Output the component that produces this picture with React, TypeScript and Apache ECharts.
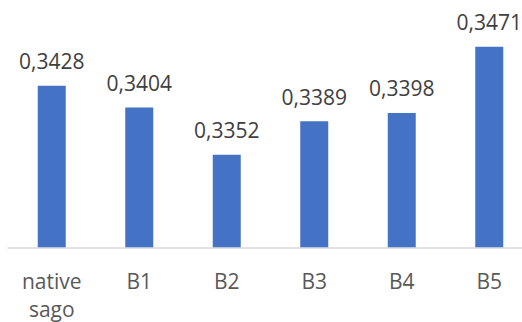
import React, { useEffect, useRef } from "react";
import * as echarts from "echarts";

const categories = ["native\nsago", "B1", "B2", "B3", "B4", "B5"];
const values = [0.3428, 0.3404, 0.3352, 0.3389, 0.3398, 0.3471];
const yMin = 0.325;
const yMax = 0.35;

export default function App() {
  const ref = useRef<HTMLDivElement>(null);
  useEffect(() => {
    if (!ref.current) return;
    const chart = echarts.init(ref.current, undefined, { renderer: "svg" });
    chart.setOption({
      animation: false,
      backgroundColor: "#ffffff",
      textStyle: { fontFamily: "Open Sans" },
      grid: {
        left: 8,
        top: 20.4,
        width: 525,
        height: 226.9,
        containLabel: false,
        outerBoundsMode: "none",
      },
      xAxis: {
        type: "category",
        data: categories,
        axisLine: { show: true, lineStyle: { color: "#d9d9d9", width: 1.5 } },
        axisTick: { show: false },
        axisLabel: {
          color: "#595959",
          fontSize: 21,
          fontFamily: "Open Sans",
          margin: 20,
          lineHeight: 28,
          interval: 0,
        },
      },
      yAxis: {
        type: "value",
        min: yMin,
        max: yMax,
        show: false,
        splitLine: { show: false },
      },
      series: [
        {
          type: "bar",
          data: values,
          barWidth: "32%",
          itemStyle: { color: "#4472c4" },
          label: {
            show: true,
            position: "top",
            distance: 14,
            color: "#404040",
            fontSize: 21,
            fontFamily: "Open Sans",
            formatter: (p: any) => p.value.toFixed(4).replace(".", ","),
          },
        },
      ],
    });
    return () => chart.dispose();
  }, []);
  return (
    <div
      ref={ref}
      style={{ position: "fixed", left: 0, top: 0, width: 522, height: 322 }}
    />
  );
}
